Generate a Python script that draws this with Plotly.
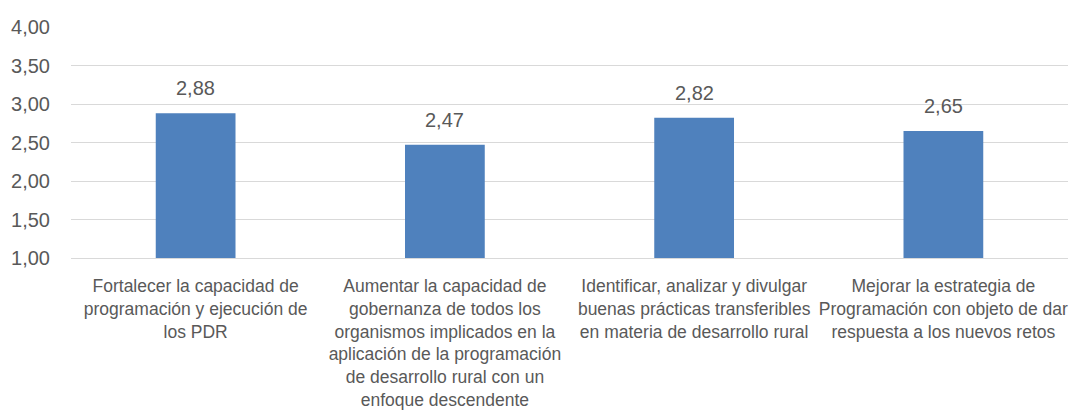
import plotly.graph_objects as go

categories = [
    "Fortalecer la capacidad de<br>programación y ejecución de<br>los PDR",
    "Aumentar la capacidad de<br>gobernanza de todos los<br>organismos implicados en la<br>aplicación de la programación<br>de desarrollo rural con un<br>enfoque descendente",
    "Identificar, analizar y divulgar<br>buenas prácticas transferibles<br>en materia de desarrollo rural",
    "Mejorar la estrategia de<br>Programación con objeto de dar<br>respuesta a los nuevos retos",
]
values = [2.88, 2.47, 2.82, 2.65]
y_ticks = [1.0, 1.5, 2.0, 2.5, 3.0, 3.5, 4.0]

FONT = "Liberation Sans, Arial, sans-serif"
TEXT = "#595959"


def es_num(v):
    return f"{v:.2f}".replace(".", ",")


fig = go.Figure(
    go.Bar(
        x=categories,
        y=values,
        marker=dict(color="#4F81BD", line=dict(width=0)),
        hoverinfo="skip",
    )
)

# value labels above each bar
for cat, v in zip(categories, values):
    fig.add_annotation(
        x=cat,
        y=v,
        text=es_num(v),
        showarrow=False,
        yanchor="bottom",
        yshift=12,
        font=dict(family=FONT, size=20, color=TEXT),
    )

fig.update_layout(
    width=1075,
    height=417,
    margin=dict(l=71, r=7, t=27, b=157),
    paper_bgcolor="white",
    plot_bgcolor="white",
    bargap=0.68,
    showlegend=False,
    font=dict(family=FONT, size=17.5, color=TEXT),
)
fig.update_xaxes(
    showgrid=False,
    showline=True,
    linecolor="#D9D9D9",
    linewidth=1,
    tickfont=dict(family=FONT, size=17.5, color=TEXT),
    ticks="",
    ticklabelstandoff=12,
    tickangle=0,
)
fig.update_yaxes(
    range=[1.0, 4.0],
    tickvals=y_ticks,
    ticktext=[es_num(t) for t in y_ticks],
    showgrid=True,
    gridcolor="#D9D9D9",
    gridwidth=1,
    zeroline=False,
    showline=False,
    ticks="",
    ticklabelstandoff=20,
    tickfont=dict(family=FONT, size=20, color=TEXT),
)

fig.write_html("out.html")
